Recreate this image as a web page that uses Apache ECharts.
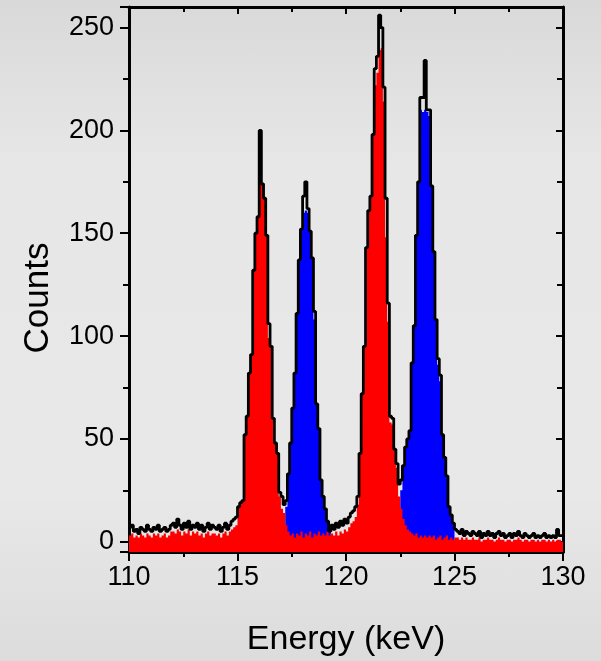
<!DOCTYPE html>
<html>
<head>
<meta charset="utf-8">
<script src="https://cdn.jsdelivr.net/npm/echarts@6/dist/echarts.min.js"></script>
<style>
  html, body { margin: 0; padding: 0; }
  body {
    width: 601px; height: 661px;
    background: linear-gradient(#d9d9d9, #e7e7e7 25%, #e8e8e8 75%, #dcdcdc);
  }
  #chart { width: 601px; height: 661px; }
</style>
</head>
<body>
<div id="chart"></div>
<script>
// bins of 0.1 keV, starting at 110 keV
const binStart = 110;
const binWidth = 0.1;

const xTicks = [110, 115, 120, 125, 130];

// total measured counts (black outline)
const totalCounts = [
  7, 8, 5, 6, 4, 7, 6, 5, 8, 6,
  5, 7, 6, 8, 5, 6, 7, 5, 6, 8,
  9, 7, 11, 8, 6, 9, 7, 10, 6, 8,
  7, 9, 6, 8, 5, 7, 9, 6, 8, 7,
  6, 8, 5, 7, 9, 6, 8, 10, 11, 12,
  17, 19, 20, 52, 61, 82, 91, 132, 150, 158,
  200, 174, 167, 149, 106, 95, 60, 48, 43, 24,
  22, 18, 20, 33, 48, 65, 82, 111, 137, 152,
  168, 175, 162, 151, 138, 112, 67, 55, 30, 22,
  16, 10, 5, 8, 6, 9, 7, 10, 8, 11,
  9, 12, 14, 15, 17, 22, 43, 72, 95, 143,
  161, 168, 198, 230, 236, 256, 250, 221, 167, 116,
  61, 60, 45, 38, 28, 30, 37, 46, 50, 54,
  87, 105, 149, 175, 216, 216, 234, 210, 210, 173,
  141, 108, 89, 81, 52, 41, 32, 17, 13, 9,
  6, 5, 4, 6, 3, 5, 4, 3, 5, 4,
  3, 5, 2, 4, 3, 5, 3, 4, 2, 4,
  5, 3, 4, 2, 3, 4, 2, 4, 3, 5,
  3, 2, 4, 3, 2, 3, 4, 2, 3, 2,
  3, 4, 2, 3, 2, 3, 2, 6, 3, 3
];

// red component
const redCounts = [
  3, 4, 2, 3, 2, 4, 3, 2, 4, 3,
  2, 4, 3, 4, 2, 3, 4, 2, 3, 5,
  5, 4, 6, 5, 3, 5, 4, 6, 3, 5,
  4, 5, 3, 4, 2, 4, 5, 3, 4, 4,
  3, 4, 2, 4, 5, 3, 5, 6, 7, 8,
  17, 19, 20, 52, 61, 82, 91, 132, 150, 158,
  182, 174, 167, 149, 99, 95, 60, 48, 43, 22,
  16, 14, 8, 5, 3, 4, 2, 4, 3, 5,
  2, 4, 3, 5, 2, 4, 3, 5, 3, 4,
  3, 5, 3, 4, 3, 5, 3, 5, 4, 6,
  5, 7, 9, 10, 12, 18, 43, 72, 95, 143,
  161, 168, 198, 222, 228, 239, 240, 214, 148, 107,
  58, 57, 45, 36, 22, 16, 11, 8, 6, 5,
  4, 3, 4, 2, 3, 2, 3, 2, 3, 2,
  3, 1, 2, 3, 1, 2, 3, 1, 2, 1,
  2, 2, 1, 2, 1, 2, 1, 1, 2, 1,
  1, 2, 0, 1, 1, 2, 1, 1, 0, 1,
  2, 1, 1, 0, 1, 1, 0, 1, 1, 2,
  1, 0, 1, 1, 0, 1, 1, 0, 1, 0,
  1, 1, 0, 1, 0, 1, 0, 1, 1, 0
];

// blue component
const blueCounts = [
  0, 0, 0, 0, 0, 0, 0, 0, 0, 0,
  0, 0, 0, 0, 0, 0, 0, 0, 0, 0,
  0, 0, 0, 0, 0, 0, 0, 0, 0, 0,
  0, 0, 0, 0, 0, 0, 0, 0, 0, 0,
  0, 0, 0, 0, 0, 0, 0, 0, 0, 0,
  0, 0, 0, 0, 0, 0, 0, 0, 0, 0,
  0, 0, 0, 0, 0, 0, 0, 0, 0, 0,
  0, 0, 17, 33, 48, 65, 82, 111, 137, 152,
  160, 161, 160, 151, 138, 108, 67, 55, 30, 22,
  16, 10, 5, 0, 0, 0, 0, 0, 0, 0,
  0, 0, 0, 0, 0, 0, 0, 0, 0, 0,
  0, 0, 0, 0, 0, 0, 0, 0, 0, 0,
  0, 0, 0, 0, 0, 25, 37, 46, 50, 54,
  87, 105, 149, 175, 210, 209, 210, 209, 207, 173,
  141, 108, 86, 78, 52, 41, 32, 17, 13, 9,
  0, 0, 0, 0, 0, 0, 0, 0, 0, 0,
  0, 0, 0, 0, 0, 0, 0, 0, 0, 0,
  0, 0, 0, 0, 0, 0, 0, 0, 0, 0,
  0, 0, 0, 0, 0, 0, 0, 0, 0, 0,
  0, 0, 0, 0, 0, 0, 0, 0, 0, 0
];

// histogram bins -> explicit step outline: each bin gives its left and right edge
function toSteps(values) {
  const pts = [];
  values.forEach((v, i) => {
    const x0 = +(binStart + i * binWidth).toFixed(2);
    const x1 = +(binStart + (i + 1) * binWidth).toFixed(2);
    pts.push([x0, v], [x1, v]);
  });
  return pts;
}

const FONT = "'Liberation Sans', Arial, Helvetica, sans-serif";
const AXIS_LINE = { show: true, onZero: false, lineStyle: { color: '#000', width: 3 } };

function xAxisOf(position, inside) {
  return {
    type: 'value',
    position,
    min: xTicks[0],
    max: xTicks[xTicks.length - 1],
    interval: 5,
    axisLine: AXIS_LINE,
    axisTick: { show: true, inside, length: inside ? 7 : 9, lineStyle: { color: '#000', width: 2 } },
    minorTick: { show: true, splitNumber: 2, length: 5, lineStyle: { color: '#000', width: 2 } },
    splitLine: { show: false },
    axisLabel: {
      show: position === 'bottom',
      color: '#000',
      fontSize: 27,
      fontFamily: FONT,
      margin: 12,
    },
  };
}

function yAxisOf(position, inside) {
  return {
    type: 'value',
    position,
    min: -5,
    max: 260,
    splitNumber: 5,
    axisLine: AXIS_LINE,
    axisTick: { show: true, inside, length: inside ? 7 : 9, lineStyle: { color: '#000', width: 2 } },
    minorTick: { show: true, splitNumber: 2, length: 6, lineStyle: { color: '#000', width: 2 } },
    splitLine: { show: false },
    axisLabel: {
      show: position === 'left',
      color: '#000',
      fontSize: 27,
      fontFamily: FONT,
      margin: 15,
      showMinLabel: false,
      showMaxLabel: false,
    },
  };
}

function fillSeries(name, values, color, z) {
  return {
    name,
    type: 'line',
    data: toSteps(values),
    showSymbol: false,
    lineStyle: { width: 0, color, opacity: 0 },
    itemStyle: { color },
    areaStyle: { color, opacity: 1, origin: 'start' },
    z,
  };
}

const chart = echarts.init(document.getElementById('chart'), null, { renderer: 'canvas' });

chart.setOption({
  animation: false,
  backgroundColor: 'transparent',
  grid: { left: 129, right: 38, top: 7, bottom: 109, containLabel: false },
  xAxis: [xAxisOf('bottom', false), xAxisOf('top', true)],
  yAxis: [yAxisOf('left', false), yAxisOf('right', true)],
  graphic: [
    {
      type: 'text',
      x: 346,
      y: 640,
      style: {
        text: 'Energy (keV)',
        fill: '#000',
        font: '34px ' + FONT,
        align: 'center',
        verticalAlign: 'middle',
      },
    },
    {
      type: 'text',
      x: 38,
      y: 298,
      rotation: Math.PI / 2,
      style: {
        text: 'Counts',
        fill: '#000',
        font: '35px ' + FONT,
        align: 'center',
        verticalAlign: 'middle',
      },
    },
  ],
  series: [
    fillSeries('blue', blueCounts, '#0000ff', 2),
    fillSeries('red', redCounts, '#ff0000', 3),
    {
      name: 'total',
      type: 'line',
      data: toSteps(totalCounts),
      showSymbol: false,
      lineStyle: { color: '#000', width: 2.8 },
      itemStyle: { color: '#000' },
      z: 4,
    },
  ],
});
</script>
</body>
</html>
